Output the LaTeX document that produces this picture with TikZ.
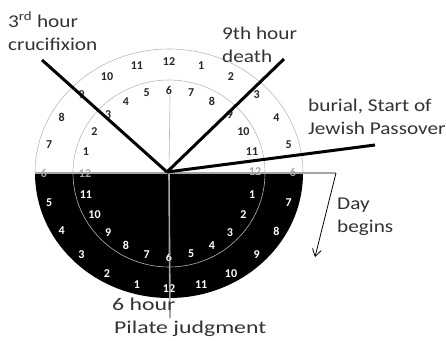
\documentclass[tikz,border=0pt]{standalone}
\usepackage{fontspec}
\setmainfont{Carlito}
\newfontfamily\labelfont{Carlito}[FakeStretch=1.18]
\newfontfamily\widefont{Carlito}[FakeStretch=1.32]
\usetikzlibrary{arrows.meta,positioning,calc}

\begin{document}
\begin{tikzpicture}[
  x=1pt, y=-1pt,
  note/.style={anchor=north west, inner sep=0pt, align=left, text=black!80, font=\labelfont\fontsize{18}{23}\selectfont},
  num/.style={inner sep=0pt, text=black!85, font=\fontsize{12}{12}\selectfont\bfseries},
  wnum/.style={num, text=white},
  hnum/.style={num, text=gray!70},
  ring/.style={gray!55, line width=0.6pt},
  hand/.style={line width=3pt, black},
  axis/.style={gray!70, line width=1.6pt},
  arrow/.style={-{Straight Barb[length=7pt,width=9pt]}, thick}
]

\useasboundingbox (0,0) rectangle (446,340);

\coordinate (c) at (169,173);
\coordinate (hub) at (167,172);
\coordinate (west) at (35,173);
\coordinate (corner) at (336,173);
\coordinate (crux end) at (42,60);
\coordinate (death end) at (284,59);
\coordinate (burial end) at (375,145);
\coordinate (noon) at (170,95);
\coordinate (pilate end) at (170,318);
\coordinate (day tip) at (315,257);

% night half and rings
\fill[black] (west) arc[start angle=180, end angle=360, x radius=134pt, y radius=125pt] -- cycle;
\draw[ring] (west) arc[start angle=180, end angle=0, x radius=134pt, y radius=124pt];
\draw[ring] (73,173) arc[start angle=180, end angle=0, x radius=96pt, y radius=93pt];
\draw[ring, gray!60] (73,173) arc[start angle=180, end angle=360, x radius=96pt, y radius=94pt];

% hour numbers
\foreach \n [count=\k] in {7,8,9,10,11,12,1,2,3,4,5}
  \node[num] (ot\k) at ($(c)+(180-15*\k:124pt and 111pt)$) {\n};
\foreach \n [count=\k] in {1,2,3,4,5,6,7,8,9,10,11}
  \node[num] (it\k) at ($(c)+(180-15*\k:86pt and 83pt)$) {\n};
\foreach \n [count=\k] in {5,4,3,2,1,12,11,10,9,8,7}
  \node[wnum] (ob\k) at ($(c)+(180+15*\k:124pt and 116pt)$) {\n};
\foreach \n [count=\k] in {11,10,9,8,7,6,5,4,3,2,1}
  \node[wnum] (ib\k) at ($(c)+(180+15*\k:86pt and 84pt)$) {\n};
\node[hnum] (ow) at (44,173) {6};
\node[hnum] (iw) at (85,174) {12};
\node[hnum] (ie) at (255,172) {12};
\node[hnum] (oe) at (293,172) {6};

\draw[ring] (noon) -- (c);
\draw[axis] (west) -- (corner);
\draw[axis] (c) -- (pilate end);

% hands
\draw[hand] (crux end) -- (hub);
\draw[hand] (hub) -- (death end);
\draw[hand] (hub) -- (burial end);
\draw[arrow] (corner) -- (day tip);

\node[note] (crux) at (8,12) {3\textsuperscript{rd} hour\\crucifixion};
\node[note] (death) at (222,27) {9th hour\\death};
\node[note] (burial) at (308,99) {burial, Start of\\Jewish Passover};
\node[note] (day) at (337,198) {Day\\begins};
\node[note, font=\widefont\fontsize{18}{23}\selectfont] (pilate) at (112,298) {6 hour\\\hspace{2pt}Pilate judgment};

\end{tikzpicture}
\end{document}
